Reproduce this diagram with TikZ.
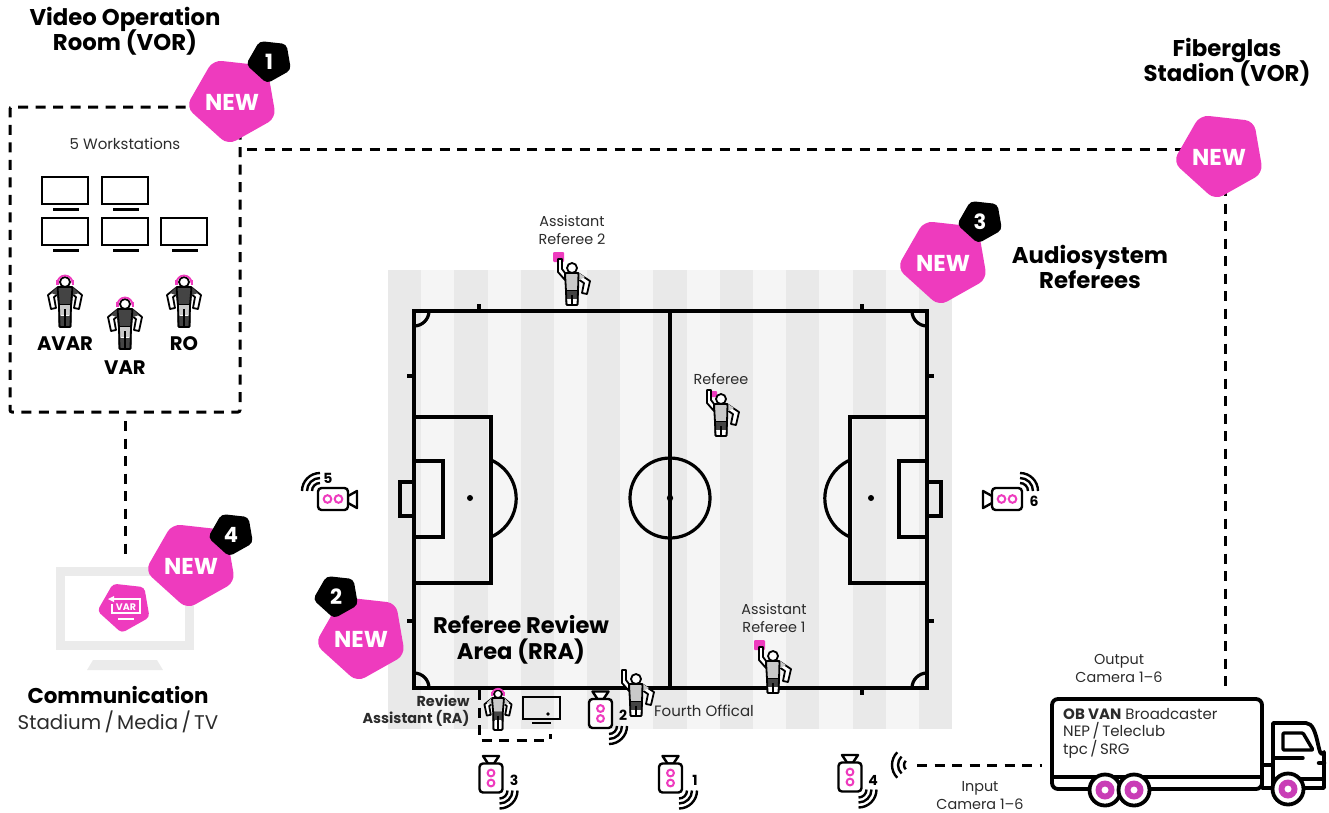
\documentclass[tikz,border=0pt]{standalone}
\usepackage{fontspec}
\usepackage{xcolor}
\usepackage{tikz}
\usetikzlibrary{positioning, calc}
\setmainfont{Poppins}
\definecolor{Pink}{HTML}{EE3BBE}
\definecolor{Wheel}{HTML}{C93DB6}
\definecolor{Ink}{HTML}{2B2B2B}
\definecolor{Shirt}{HTML}{444444}
\definecolor{Kit}{HTML}{C9C9C9}
\definecolor{StripeA}{HTML}{E9E9E9}
\definecolor{StripeB}{HTML}{F5F5F5}
\definecolor{Screen}{HTML}{EBEBEB}
\newcommand{\blobpath}{(-19,-42) -- (35,-36) -- (44,16) -- (-4,43) -- (-46,5) -- cycle}
\newcommand{\tightlines}{\setlength{\lineskiplimit}{-20pt}}

\begin{document}
\begin{tikzpicture}[
      x=1pt, y=-1pt,
      title/.style={font=\fontsize{22.8}{25}\selectfont\bfseries\tightlines, align=center, text=black},
      bigtitle/.style={font=\fontsize{22.6}{26}\selectfont\bfseries\tightlines, align=center, text=black},
      tag/.style={font=\fontsize{19.6}{22}\selectfont\bfseries, text=black},
      small/.style={font=\fontsize{14.4}{18}\selectfont, align=center, text=Ink},
      camnum/.style={font=\fontsize{14}{15}\selectfont\bfseries, text=black},
      dashline/.style={line width=3pt, dash pattern=on 10pt off 7.5pt, draw=black},
      fieldline/.style={line width=3.2pt, draw=black},
      wave/.style={line width=2.4pt, draw=black},
      pinkring/.style={line width=2pt, draw=Pink},
      limb/.style={line width=1.8pt, fill=white, line join=round},
      pics/newbadge/.style={code={
        \fill[Pink, rounded corners=9pt] \blobpath;
        \node[text=white, font=\fontsize{23}{24}\selectfont\bfseries, inner sep=0pt] (-label) at (0,0) {NEW};
      }},
      pics/numbadge/.style={code={
        \fill[black, rounded corners=4.5pt, scale=0.5] \blobpath;
        \node[text=white, font=\fontsize{21}{22}\selectfont\bfseries, inner sep=0pt] (-label) at (0,0) {#1};
      }},
      pics/person/.style n args={3}{code={
        \draw[limb] (-7,5) -- (-17,13) -- (-14,27) -- (-9,26) -- (-11,15) -- (-7,12) -- cycle;
        \draw[limb] (7,5) -- (17,13) -- (14,27) -- (9,26) -- (11,15) -- (7,12) -- cycle;
        \fill[#1] (-8,5) -- (8,5) -- (14,11) -- (8,13) -- (7,23) -- (-7,23) -- (-8,13) -- (-14,11) -- cycle;
        \draw[line width=1.8pt, fill=white, rounded corners=1pt] (-5.5,23) rectangle (5.5,45);
        \fill[#2] (-5,23) rectangle (5,33);
        \fill[#3] (-5,34) rectangle (5,45);
        \draw[line width=1.6pt] (0,27) -- (0,45);
        \draw[line width=1.8pt, rounded corners=1pt] (-7.5,5) -- (7.5,5) -- (6,23) -- (5.5,45) -- (-5.5,45) -- (-6,23) -- cycle;
        \draw[line width=1.8pt, fill=white] (0,0) circle[radius=5];
      }},
      pics/official/.style n args={3}{code={
        \draw[limb] (-14,-9) -- (-14,4) -- (-7,12) -- (-7,5) -- (-10,1) -- (-10,-9) -- cycle;
        \draw[limb] (6,5) -- (18,13) -- (15,26) -- (10,25) -- (12,15) -- (6,11) -- cycle;
        \fill[#1] (-7,5) -- (7,5) -- (13,9) -- (7,12) -- (6,23) -- (-6,23) -- cycle;
        \draw[line width=1.8pt, fill=white, rounded corners=1pt] (-5.5,23) rectangle (5.5,37);
        \fill[#2] (-5,23) rectangle (5,31);
        \fill[#3] (-5,31) rectangle (5,37);
        \draw[line width=1.4pt] (0,27) -- (0,37);
        \draw[line width=1.8pt, rounded corners=1pt] (-7,5) -- (6.5,5) -- (6,23) -- (5.5,37) -- (-5.5,37) -- (-6,23) -- cycle;
        \draw[line width=1.8pt, fill=white] (0,0) circle[radius=5];
      }},
      pics/headset/.style={code={
        \draw[line width=1.8pt, Pink] (-7.5,1) arc[start angle=180, end angle=360, radius=7.5];
        \fill[Pink] (-9,-2) rectangle (-6.5,3);
        \fill[Pink] (6.5,-2) rectangle (9,3);
      }},
      pics/workstation/.style={code={
        \draw[line width=2.8pt] (0,0) rectangle (46,27);
        \draw[line width=3pt] (11,32) -- (37,32);
      }},
      pics/camup/.style={code={
        \draw[line width=2.4pt, fill=white, line join=round] (-8,-22) -- (8,-22) -- (3,-14.5) -- (-3,-14.5) -- cycle;
        \draw[line width=2.4pt, fill=white, rounded corners=3.5pt] (-11.5,-14.5) rectangle (11.5,14.5);
        \draw[pinkring] (0,-5) circle[radius=3.4] (0,5) circle[radius=3.4];
        \foreach \wr in {8,13,18}
          \draw[wave] ($(8.5,12.5)+(\wr,0)$) arc[start angle=0, end angle=90, radius=\wr];
      }},
      pics/camside/.style={code={
        \draw[line width=2.4pt, fill=white, line join=round] (15,-3) -- (24,-8) -- (24,9) -- (15,4) -- cycle;
        \draw[line width=2.4pt, fill=white, rounded corners=3.5pt] (-15,-11) rectangle (15,11);
        \draw[pinkring] (-5.5,0) circle[radius=3.8] (5.5,0) circle[radius=3.8];
        \foreach \wr in {8,13,18}
          \draw[wave] ($(-13,-8)+(-\wr,0)$) arc[start angle=180, end angle=270, radius=\wr];
      }},
      pics/vanwheel/.style={code={
        \draw[line width=3.8pt, fill=white] (0,0) circle[radius=15.5];
        \fill[Wheel, even odd rule] (0,0) circle[radius=9.5] (0,0) circle[radius=3.6];
      }}
    ]
      \useasboundingbox (0,0) rectangle (1329,812);

      % pitch
      \fill[StripeB] (388,270) rectangle (952,729);
      \foreach \s in {0,2,...,16}
        \fill[StripeA] ({388+33.18*\s},270) rectangle ({388+33.18*(\s+1)},729);
      \draw[fieldline] (414,311) rectangle (927,688);
      \draw[fieldline] (670,311) -- (670,688);
      \draw[fieldline] (670,498) circle[radius=40];
      \fill (670,498) circle[radius=3.2] (470,498) circle[radius=3] (871,498) circle[radius=3];
      \draw[fieldline] (414,417) rectangle (491,583);
      \draw[fieldline] (414,461) rectangle (443,537);
      \draw[fieldline] (414,482) rectangle (400,516);
      \draw[fieldline] (850,417) rectangle (927,583);
      \draw[fieldline] (899,461) rectangle (927,537);
      \draw[fieldline] (927,482) rectangle (941,516);
      \draw[fieldline] (491,460) arc[start angle=-66.4, end angle=66.4, radius=42];
      \draw[fieldline] (850,537) arc[start angle=113.6, end angle=246.4, radius=42];
      \draw[fieldline] (429,311) arc[start angle=0, end angle=90, radius=15];
      \draw[fieldline] (927,326) arc[start angle=90, end angle=180, radius=15];
      \draw[fieldline] (414,673) arc[start angle=-90, end angle=0, radius=15];
      \draw[fieldline] (912,688) arc[start angle=180, end angle=270, radius=15];
      \foreach \tx in {479,862} \draw[fieldline] (\tx,304) -- (\tx,311);
      \draw[fieldline] (862,688) -- (862,695);
      \foreach \ty in {376,621} {
        \draw[fieldline] (407,\ty) -- (414,\ty);
        \draw[fieldline] (927,\ty) -- (934,\ty);
      }

      % rooms and connectors
      \node[dashline, draw, rounded corners=2pt, minimum width=230pt, minimum height=305pt, inner sep=0pt, outer sep=0pt] (vorroom) at (125,259.5) {};
      \draw[dashline] (479,690) |- (550,740) -- (550,734);
      \node[draw=Screen, line width=9pt, fill=white, minimum width=129pt, minimum height=74pt, inner sep=0pt, outer sep=0pt] (commscreen) at (125,608.5) {};
      \fill[Screen] (93,660) -- (157,660) -- (163,670) -- (87,670) -- cycle;
      \node[draw, line width=3.8pt, fill=white, rounded corners=6pt, minimum width=210pt, minimum height=90pt, inner sep=0pt, outer sep=0pt] (vanbox) at (1157,744) {};
      \coordinate (vorexit) at (247,149);
      \coordinate (fiberjoint) at (1225,149);
      \coordinate (wifi) at (917,765);
      \draw[dashline] (vorexit) -- (fiberjoint) -- ([yshift=11pt]vanbox.north -| fiberjoint);
      \draw[dashline] ([yshift=-9pt]vorroom.south) -- ([yshift=13pt]commscreen.north);
      \draw[dashline] (wifi) -- ([xshift=-10pt]vanbox.west |- wifi);

      % VOR
      \node[small, font=\fontsize{15}{18}\selectfont] (workstations) at (125,144) {5 Workstations};
      \pic at (42,177) {workstation};
      \pic at (102,177) {workstation};
      \pic at (42,218) {workstation};
      \pic at (102,218) {workstation};
      \pic at (161,218) {workstation};
      \pic at (65,282) {person={Shirt}{Kit}{Shirt}};
      \pic at (125,304) {person={Shirt}{Kit}{Shirt}};
      \pic at (184,282) {person={Shirt}{Kit}{Shirt}};
      \pic at (65,282) {headset};
      \pic at (125,304) {headset};
      \pic at (184,282) {headset};
      \node[tag] (avar) at (65,344) {AVAR};
      \node[tag] (var) at (125,368) {VAR};
      \node[tag] (ro) at (184,344) {RO};
      \node[title] (vortitle) at (125,31) {Video Operation\\Room (VOR)};

      % officials
      \fill[Pink, rounded corners=1pt] (553,252) rectangle (564,262);
      \fill[Pink, rounded corners=1pt] (711,391) rectangle (717,397);
      \fill[Pink, rounded corners=1pt] (754,640) rectangle (765,650);
      \pic at (572,268) {official={Kit}{Shirt}{white}};
      \pic at (721,399) {official={Kit}{Shirt}{white}};
      \pic at (773,656) {official={Kit}{Shirt}{white}};
      \pic at (636,679) {official={Kit}{Shirt}{white}};
      \pic[scale=0.8] at (498,694) {person={Kit}{Shirt}{white}};
      \pic[scale=0.8] at (498,694) {headset};
      \node[small] (ar2) at (572,230) {Assistant\\Referee 2};
      \node[small] (ref) at (721,379) {Referee};
      \node[small] (ar1) at (774,618) {Assistant\\Referee 1};
      \node[small, font=\fontsize{15}{18}\selectfont] (fourth) at (704,711) {Fourth Offical};

      % review area
      \node[bigtitle] (rra) at (521,640) {Referee Review\\Area (RRA)};
      \node[font=\fontsize{14.4}{17}\selectfont\bfseries, align=right, anchor=east, text=Ink] (ra) at (473,710.5) {Review\\Assistant (RA)};
      \draw[line width=2.8pt] (523,697) rectangle (560,719);
      \draw[line width=2.8pt] (532,723) -- (551,723);
      \fill (548,714) circle[radius=1.8];

      % cameras
      \pic at (600.5,713.5) {camup};
      \pic at (491,778) {camup};
      \pic at (670.5,778) {camup};
      \pic at (850,777) {camup};
      \pic at (333,499) {camside};
      \pic[xscale=-1] at (1007,499) {camside};
      \node[camnum] (cam1) at (695,780) {1};
      \node[camnum] (cam2) at (623,715) {2};
      \node[camnum] (cam3) at (514,780) {3};
      \node[camnum] (cam4) at (873,780) {4};
      \node[camnum] (cam5) at (328,478) {5};
      \node[camnum] (cam6) at (1034,501) {6};
      \foreach \wr in {6,12,18}
        \draw[wave] ($(910,765)+(-135:\wr)$) arc[start angle=225, end angle=135, radius=\wr];

      % van
      \node[small, font=\fontsize{15}{17.6}\selectfont, align=left, anchor=north west, inner sep=0pt] (vanlabel) at (1063,708) {\textbf{OB VAN} Broadcaster\\NEP\,/\,Teleclub\\tpc\,/\,SRG};
      \draw[line width=3.8pt] (1053,777) -- (1262,777);
      \draw[line width=3.8pt, line join=round, fill=white] (1262,765) -- (1273,765) -- (1273,723) -- (1306,723) to[out=0, in=-120] (1324,752) -- (1324,788) -- (1262,788) -- cycle;
      \draw[line width=3.4pt, line join=round, rounded corners=1pt] (1283,733) -- (1303,733) -- (1313,750) -- (1283,750) -- cycle;
      \draw[line width=3.4pt, line cap=round] (1273,758) -- (1303,758);
      \draw[line width=3.4pt] (1273,779) -- (1324,779);
      \draw[line width=3.8pt] (1273,765) -- (1273,788);
      \draw[line width=4.5pt, line cap=round] (1319,763) -- (1324,763);
      \pic at (1105,790) {vanwheel};
      \pic at (1134,790) {vanwheel};
      \pic at (1288,789) {vanwheel};
      \node[small] (output) at (1119,668.5) {Output\\Camera 1--6};
      \node[small] (input) at (980,795.5) {Input\\Camera 1--6};

      % communication
      \fill[Pink, rounded corners=4pt, scale=0.58, shift={(213.8,1048.3)}] \blobpath;
      \node[font=\fontsize{9.5}{10}\selectfont\bfseries, text=white, inner sep=0pt] (vartag) at (126,607) {VAR};
      \draw[white, line width=1.4pt] (112,604) -- (112,613) -- (140,613) -- (140,599) -- (113,599);
      \fill[white] (108,599) -- (114,596) -- (114,602) -- cycle;
      \draw[white, line width=1.6pt] (118,619) -- (134,619);
      \node[bigtitle, font=\fontsize{21.4}{26}\selectfont\bfseries] (comm) at (118,695) {Communication};
      \node[font=\fontsize{19.8}{23}\selectfont, text=Ink] (commsub) at (118,722) {Stadium\,/\,Media\,/\,TV};

      % badges
      \pic (new1) at (232,102) {newbadge};
      \pic (num1) at (269,62) {numbadge=1};
      \pic (newfiber) at (1219,157) {newbadge};
      \pic (new3) at (943,263) {newbadge};
      \pic (num3) at (980,222) {numbadge=3};
      \pic (new4) at (191,566) {newbadge};
      \pic (num4) at (231,535) {numbadge=4};
      \pic (new2) at (361,639) {newbadge};
      \pic (num2) at (336,597) {numbadge=2};
      \node[title] (fiber) at (1227,62) {Fiberglas\\Stadion (VOR)};
      \node[title] (audio) at (1090,267) {Audiosystem\\Referees};
    \end{tikzpicture}
\end{document}
